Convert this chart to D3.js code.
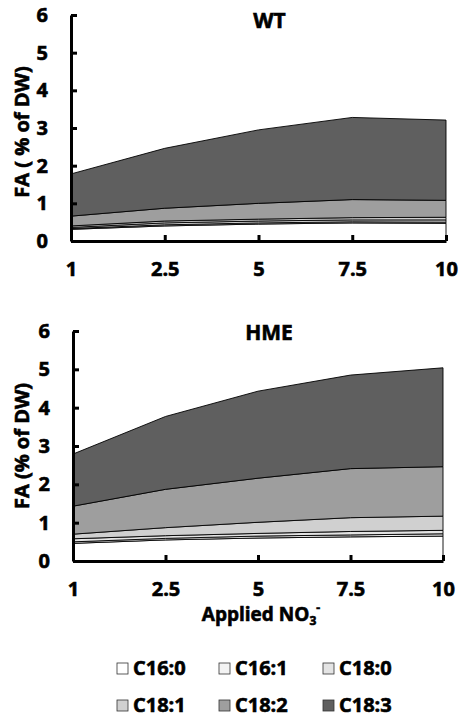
<!DOCTYPE html>
<html>
<head>
<meta charset="utf-8">
<script src="https://cdn.jsdelivr.net/npm/d3@7"></script>
<style>
  html, body { margin: 0; padding: 0; background: #fff; }
  svg text { font-family: 'Open Sans', sans-serif; font-weight: 700; fill: #000; stroke: #000; stroke-width: 0.6px; }
</style>
</head>
<body>
<div id="chart"></div>
<script>
  var categories = ['1', '2.5', '5', '7.5', '10'];
  var seriesNames = ['C16:0', 'C16:1', 'C18:0', 'C18:1', 'C18:2', 'C18:3'];
  var seriesColors = ['#ffffff', '#f3f3f3', '#e4e4e4', '#d0d0d0', '#9e9e9e', '#5f5f5f'];
  var yTicks = [0, 1, 2, 3, 4, 5, 6];

  // WT
  var wtC16_0 = [0.31, 0.40, 0.45, 0.48, 0.47];
  var wtC16_1 = [0.02, 0.03, 0.03, 0.03, 0.03];
  var wtC18_0 = [0.03, 0.05, 0.05, 0.05, 0.06];
  var wtC18_1 = [0.04, 0.05, 0.05, 0.06, 0.07];
  var wtC18_2 = [0.26, 0.34, 0.42, 0.48, 0.45];
  var wtC18_3 = [1.12, 1.59, 1.95, 2.18, 2.13];

  // HME
  var hmeC16_0 = [0.46, 0.55, 0.60, 0.63, 0.65];
  var hmeC16_1 = [0.04, 0.04, 0.05, 0.05, 0.06];
  var hmeC18_0 = [0.08, 0.07, 0.07, 0.09, 0.09];
  var hmeC18_1 = [0.12, 0.21, 0.29, 0.36, 0.37];
  var hmeC18_2 = [0.73, 1.00, 1.15, 1.28, 1.29];
  var hmeC18_3 = [1.36, 1.90, 2.27, 2.44, 2.58];

  var svg = d3.select('#chart').append('svg')
    .attr('width', 459)
    .attr('height', 719);

  function buildRows(cols) {
    return categories.map(function (c, i) {
      var row = { cat: c };
      seriesNames.forEach(function (s, j) { row[s] = cols[j][i]; });
      return row;
    });
  }

  function drawPanel(opts) {
    var rows = buildRows(opts.cols);
    var stack = d3.stack().keys(seriesNames)(rows);

    var x = d3.scalePoint().domain(categories).range([opts.left, opts.right]).padding(0);
    var y = d3.scaleLinear().domain([0, 6]).range([opts.bottom, opts.top]);

    var area = d3.area()
      .x(function (d) { return x(d.data.cat); })
      .y0(function (d) { return y(d[0]); })
      .y1(function (d) { return y(d[1]); });

    var g = svg.append('g');

    g.selectAll('.layer')
      .data(stack)
      .enter()
      .append('path')
      .attr('class', 'layer')
      .attr('d', area)
      .attr('fill', function (d, i) { return seriesColors[i]; })
      .attr('stroke', '#000')
      .attr('stroke-width', 0.9)
      .attr('stroke-linejoin', 'round');

    var yAxis = g.append('g')
      .attr('transform', 'translate(' + opts.left + ',0)')
      .call(d3.axisLeft(y).tickValues(yTicks).tickFormat(d3.format('d'))
        .tickSizeInner(-6).tickSizeOuter(0).tickPadding(23));

    var xAxis = g.append('g')
      .attr('transform', 'translate(0,' + opts.bottom + ')')
      .call(d3.axisBottom(x).tickSizeInner(-6).tickSizeOuter(0).tickPadding(21));

    [yAxis, xAxis].forEach(function (ax) {
      ax.select('.domain').attr('stroke', '#000').attr('stroke-width', 3);
      ax.selectAll('.tick line').attr('stroke', '#000').attr('stroke-width', 3);
      ax.selectAll('.tick text')
        .style('font-size', '20px')
        .style('font-family', "'Open Sans', sans-serif")
        .style('font-weight', '700')
        .attr('fill', '#000');
    });

    g.append('text')
      .attr('x', (opts.left + opts.right) / 2 + 11)
      .attr('y', opts.top + opts.titleDy)
      .attr('text-anchor', 'middle')
      .style('font-size', '21px')
      .text(opts.title);

    g.append('text')
      .attr('transform', 'translate(29,' + opts.yLabelCy + ') rotate(-90)')
      .attr('text-anchor', 'middle')
      .style('font-size', '20px')
      .text(opts.yLabel);
  }

  drawPanel({
    cols: [wtC16_0, wtC16_1, wtC18_0, wtC18_1, wtC18_2, wtC18_3],
    left: 71, right: 446, top: 15, bottom: 241,
    title: 'WT', titleDy: 13, yLabel: 'FA ( % of DW)', yLabelCy: 132
  });

  drawPanel({
    cols: [hmeC16_0, hmeC16_1, hmeC18_0, hmeC18_1, hmeC18_2, hmeC18_3],
    left: 73, right: 443, top: 331, bottom: 561,
    title: 'HME', titleDy: 9, yLabel: 'FA (% of DW)', yLabelCy: 446
  });

  // x axis title
  var xt = svg.append('text')
    .attr('x', 261)
    .attr('y', 621)
    .attr('text-anchor', 'middle')
    .style('font-size', '19px');
  xt.append('tspan').text('Applied NO');
  xt.append('tspan').attr('dy', 4).style('font-size', '12px').text('3');
  xt.append('tspan').attr('dy', -13).style('font-size', '12px').text('-');

  // legend
  var legX = [117, 219, 323];
  var legY = [668, 705];
  var legend = svg.selectAll('.leg')
    .data(seriesNames)
    .enter()
    .append('g')
    .attr('class', 'leg')
    .attr('transform', function (d, i) {
      return 'translate(' + legX[i % 3] + ',' + legY[Math.floor(i / 3)] + ')';
    });

  legend.append('rect')
    .attr('x', 0)
    .attr('y', -5)
    .attr('width', 11)
    .attr('height', 11)
    .attr('fill', function (d, i) { return seriesColors[i]; })
    .attr('stroke', '#333')
    .attr('stroke-width', 0.8);

  legend.append('text')
    .attr('x', 16)
    .attr('y', 0)
    .attr('dy', '0.36em')
    .style('font-size', '20px')
    .text(function (d) { return d; });
</script>
</body>
</html>
